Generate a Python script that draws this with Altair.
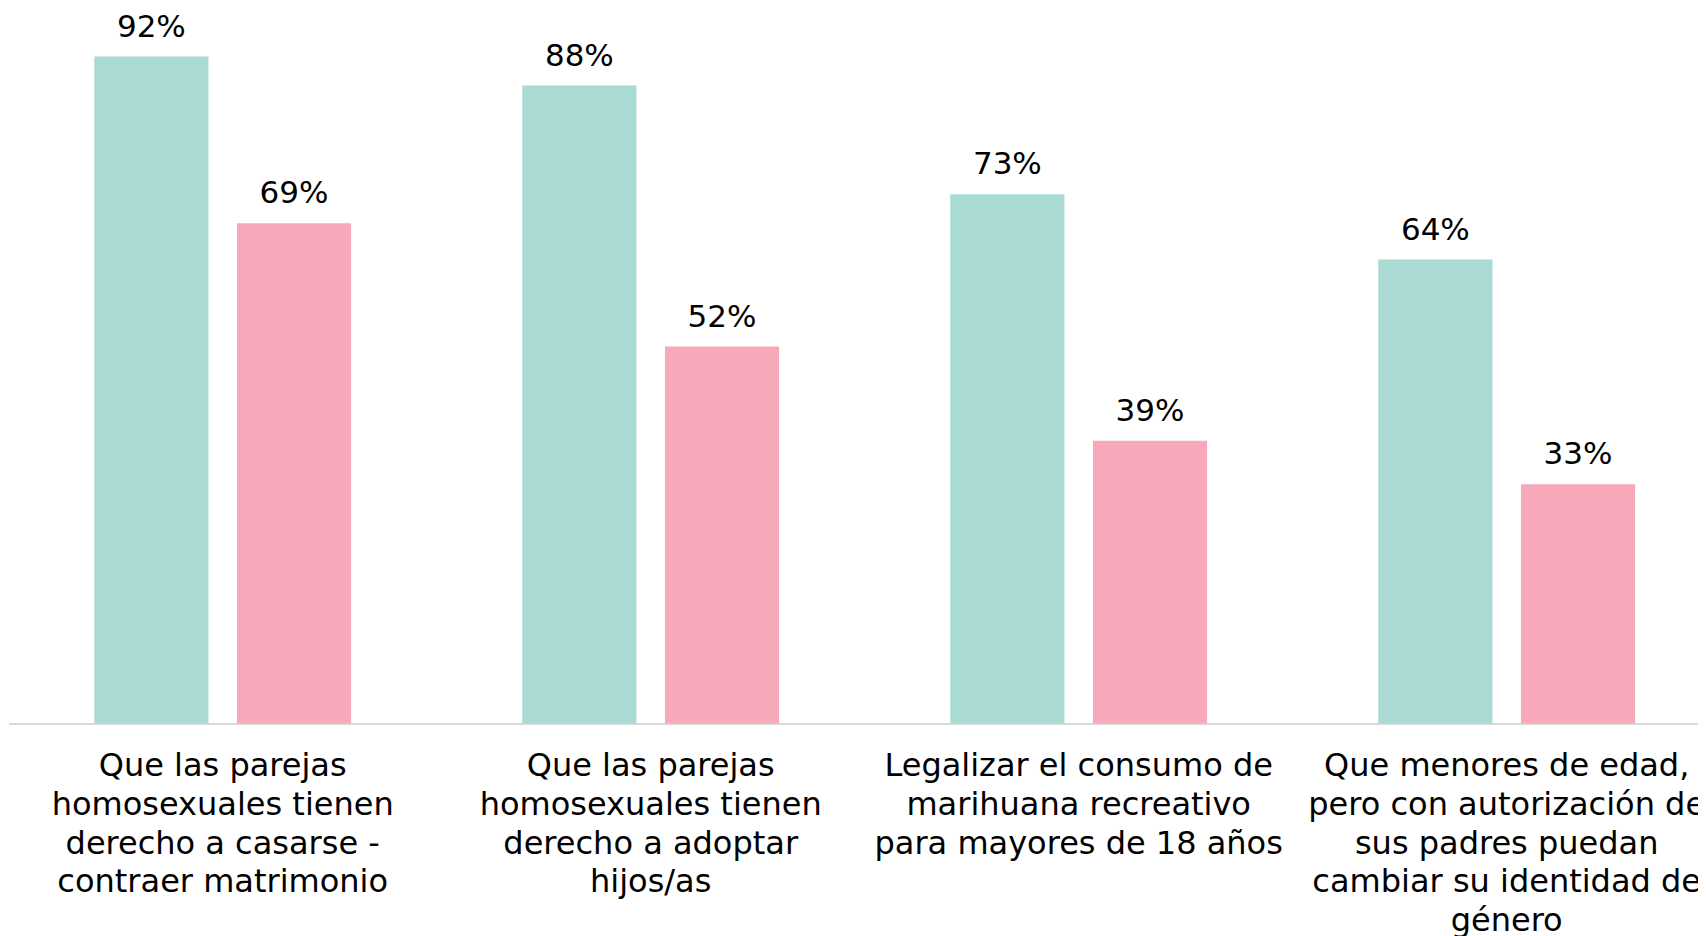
import altair as alt
import pandas as pd

# Categories (line breaks as they appear under the axis)
categorias = [
    "Que las parejas\nhomosexuales tienen\nderecho a casarse -\ncontraer matrimonio",
    "Que las parejas\nhomosexuales tienen\nderecho a adoptar\nhijos/as",
    "Legalizar el consumo de\nmarihuana recreativo\npara mayores de 18 años",
    "Que menores de edad,\npero con autorización de\nsus padres puedan\ncambiar su identidad de\ngénero",
]
series = ["Serie 1", "Serie 2"]
valores_serie1 = [92, 88, 73, 64]
valores_serie2 = [69, 52, 39, 33]
colores = ["#A9DAD3", "#F7A8B9"]

rows = []
for c, v1, v2 in zip(categorias, valores_serie1, valores_serie2):
    rows.append({"categoria": c, "serie": series[0], "valor": v1})
    rows.append({"categoria": c, "serie": series[1], "valor": v2})
df = pd.DataFrame(rows)

FONT = "DejaVu Sans"

x_enc = alt.X(
    "categoria:N",
    sort=categorias,
    scale=alt.Scale(paddingInner=0.4, paddingOuter=0.2),
    axis=alt.Axis(
        title=None,
        labelAngle=0,
        labelExpr="split(datum.label, '\\n')",
        labelFont=FONT,
        labelFontSize=32,
        labelColor="#000000",
        labelLineHeight=38.8,
        labelPadding=27,
        labelLimit=0,
        labelOverlap=False,
        labelBaseline="top",
        ticks=False,
        domainColor="#d9d9d9",
        domainWidth=2,
        grid=False,
    ),
)
xoff_enc = alt.XOffset(
    "serie:N", sort=series, scale=alt.Scale(paddingInner=0.2, paddingOuter=0)
)
y_enc = alt.Y("valor:Q", scale=alt.Scale(domain=[0, 92], nice=False, zero=True), axis=None)

base = alt.Chart(df).encode(x=x_enc, xOffset=xoff_enc, y=y_enc)

bars = base.mark_bar().encode(
    color=alt.Color("serie:N", sort=series, scale=alt.Scale(domain=series, range=colores), legend=None)
)

labels = base.transform_calculate(etiqueta="datum.valor + '%'").mark_text(
    font=FONT, fontSize=31, color="#000000", baseline="alphabetic", dy=-20
).encode(text="etiqueta:N")

chart = (
    alt.layer(bars, labels)
    .properties(
        width=1712,
        height=667,
        autosize=alt.AutoSizeParams(type="none"),
        padding={"top": 48.5, "left": 0.7, "right": -22.7, "bottom": 212},
        background="white",
    )
    .configure_view(stroke=None)
)

chart.save("out.html", embed_options={"renderer": "svg", "actions": False})
